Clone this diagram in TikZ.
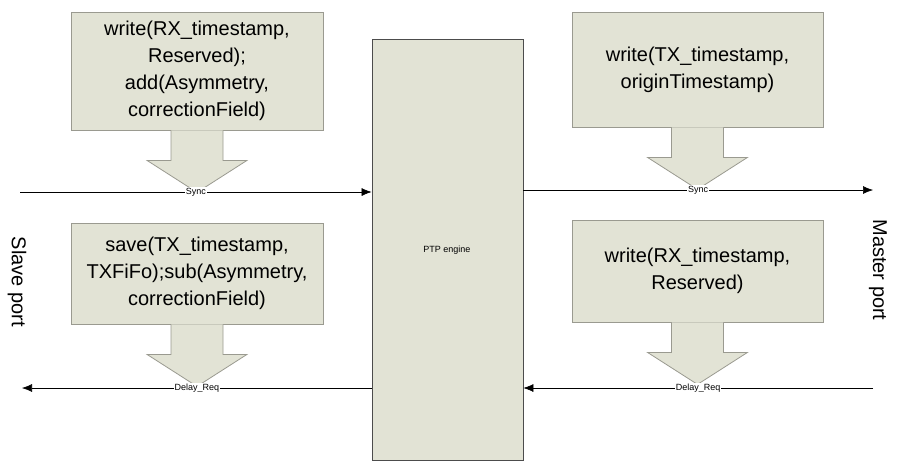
\documentclass[tikz,border=0pt]{standalone}
\usepackage{fontspec}
\setmainfont{Liberation Sans}
\usetikzlibrary{arrows.meta}
\definecolor{boxfill}{HTML}{E2E3D5}
\definecolor{boxline}{HTML}{9A9A90}
\tikzstyle{action}=[rectangle,fill=boxfill,draw=boxline,line width=0.8,align=center,font=\fontsize{20}{27}\selectfont,inner sep=0pt]
\tikzstyle{engine}=[rectangle,fill=boxfill,draw=black!70,line width=0.8,inner sep=0pt]
\tikzstyle{msg}=[->,>={Latex[length=10pt,width=8pt]},line width=0.6]
\tikzstyle{msglabel}=[fill=white,inner sep=1pt,font=\fontsize{9}{10}\selectfont]
\tikzstyle{port}=[rotate=-90,font=\fontsize{20}{24}\selectfont]
\tikzstyle{none}=[inner sep=0pt]
\newcommand{\blockarrow}[1]{%
  \fill [boxfill] ([xshift=-26pt]#1.south) -- ++(0,30) -- ++(-24,0) -- ++(50,32) -- ++(50,-32) -- ++(-24,0) -- ++(0,-30) -- cycle;
  \draw [boxline, line width=0.8] ([xshift=-26pt]#1.south) -- ++(0,30) -- ++(-24,0) -- ++(50,32) -- ++(50,-32) -- ++(-24,0) -- ++(0,-30);}
\begin{document}
\begin{tikzpicture}[x=1pt,y=-1pt]
	\useasboundingbox (0,0) rectangle (898,467);
	\node [style=engine, minimum width=151, minimum height=421] (ptp) at (447.5,249.5) {};
	\node [font=\fontsize{9}{10}\selectfont] at (447,250) {PTP engine};
	\node [style=action, minimum width=252, minimum height=118] (rxsync) at (197,71) {write(RX\_timestamp,\\Reserved);\\add(Asymmetry,\\correctionField)};
	\node [style=action, minimum width=252, minimum height=101] (txdelay) at (197,273.5) {save(TX\_timestamp,\\TXFiFo);sub(Asymmetry,\\correctionField)};
	\node [style=action, minimum width=251, minimum height=115] (txsync) at (697.5,69.5) {write(TX\_timestamp,\\originTimestamp)};
	\node [style=action, minimum width=251, minimum height=102] (rxdelay) at (697.5,271) {write(RX\_timestamp,\\Reserved)};
	\node [style=none] (slavein) at (20,192) {};
	\node [style=none] (slaveout) at (22,388) {};
	\node [style=none] (masterout) at (873,190) {};
	\node [style=none] (masterin) at (873,388) {};
	\node [style=port] at (17,282) {Slave port};
	\node [style=port] at (878,270) {Master port};

	\blockarrow{rxsync}
	\blockarrow{txdelay}
	\blockarrow{txsync}
	\blockarrow{rxdelay}

	\draw [style=msg] (slavein.center) to node [style=msglabel] {Sync} (ptp.west |- slavein);
	\draw [style=msg] (ptp.west |- slaveout) to node [style=msglabel] {Delay\_Req} (slaveout.center);
	\draw [style=msg] (ptp.east |- masterout) to node [style=msglabel] {Sync} (masterout.center);
	\draw [style=msg] (masterin.center) to node [style=msglabel] {Delay\_Req} (ptp.east |- masterin);
\end{tikzpicture}
\end{document}
